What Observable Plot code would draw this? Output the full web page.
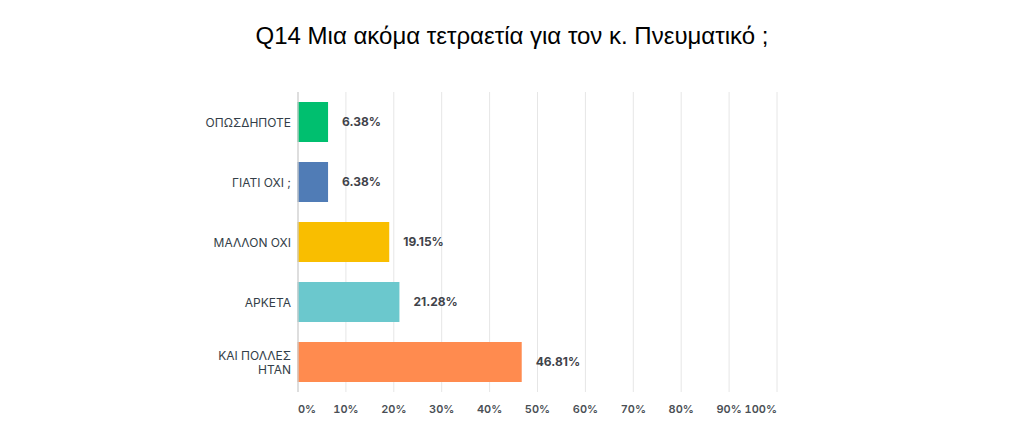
<!DOCTYPE html>
<html>
<head>
<meta charset="utf-8">
<script src="https://cdn.jsdelivr.net/npm/d3@7"></script>
<script src="https://cdn.jsdelivr.net/npm/@observablehq/plot@0.6"></script>
<style>
  body { margin: 0; background: #fff; }
  #wrap { width: 1024px; height: 445px; position: relative; overflow: hidden; }
  #title { height: 70px; box-sizing: border-box; padding-top: 22px; text-align: center;
    font-family: "Liberation Sans", Arial, sans-serif; font-size: 24px; line-height: 28px; color: #000; }
  svg { display: block; }
</style>
</head>
<body>
<div id="wrap">
  <div id="title">Q14 Μια ακόμα τετραετία για τον κ. Πνευματικό ;</div>
  <div id="chart"></div>
</div>
<script>
const categories = ["ΟΠΩΣΔΗΠΟΤΕ", "ΓΙΑΤΙ ΟΧΙ ;", "ΜΑΛΛΟΝ ΟΧΙ", "ΑΡΚΕΤΑ", "ΚΑΙ ΠΟΛΛΕΣ ΗΤΑΝ"];
const categoryLabels = ["ΟΠΩΣΔΗΠΟΤΕ", "ΓΙΑΤΙ ΟΧΙ ;", "ΜΑΛΛΟΝ ΟΧΙ", "ΑΡΚΕΤΑ", "ΚΑΙ ΠΟΛΛΕΣ\nΗΤΑΝ"];
const values = [6.38, 6.38, 19.15, 21.28, 46.81];
const colors = ["#00bf6f", "#507cb6", "#f9be00", "#6bc8cd", "#ff8b4f"];
const xTicks = [0, 10, 20, 30, 40, 50, 60, 70, 80, 90, 100];

const data = categories.map((c, i) => ({category: c, value: values[i], color: colors[i]}));
const labelOf = new Map(categories.map((c, i) => [c, categoryLabels[i]]));

const font = "Inter, 'Noto Sans', sans-serif";
const chart = Plot.plot({
  width: 1024,
  height: 375,
  marginTop: 22,
  marginBottom: 53,
  marginLeft: 297.5,
  marginRight: 247.5,
  style: {fontFamily: font, background: "#fff"},
  x: {domain: [0, 100]},
  y: {domain: categories, paddingInner: 1/3, paddingOuter: 1/6, align: 0.5},
  marks: [
    Plot.gridX(xTicks.slice(1), {stroke: "#e6e6e6", strokeOpacity: 1, strokeWidth: 1}),
    Plot.barX(data, {x: "value", y: "category", fill: "color"}),
    Plot.ruleX([0], {stroke: "#cccccc", strokeWidth: 1.3}),
    Plot.ruleY([0], {frameAnchor: "bottom", stroke: "#cccccc", strokeWidth: 1.3}),
    Plot.text(data, {x: "value", y: "category", text: d => d.value.toFixed(2) + "%",
      textAnchor: "start", dx: 13.5, fontSize: 12, fontWeight: 700, fill: "#3f434a", fontFamily: font}),
    Plot.axisY({tickSize: 0, tickPadding: 7, fontSize: 12, tickFormat: c => labelOf.get(c),
      lineHeight: 1.2, fill: "#333e48", label: null, fontFamily: font}),
    Plot.axisX({ticks: xTicks.slice(1, -1), tickSize: 0, tickPadding: 13, fontSize: 11, fontWeight: 600,
      fill: "#4a4f55", label: null, tickFormat: d => d + "%", fontFamily: font}),
    Plot.axisX({ticks: [0], tickSize: 0, tickPadding: 13, fontSize: 11, fontWeight: 600, textAnchor: "start",
      fill: "#4a4f55", label: null, tickFormat: d => d + "%", fontFamily: font}),
    Plot.axisX({ticks: [100], tickSize: 0, tickPadding: 13, fontSize: 11, fontWeight: 600, textAnchor: "end",
      fill: "#4a4f55", label: null, tickFormat: d => d + "%", fontFamily: font})
  ]
});
document.getElementById("chart").appendChild(chart);
</script>
</body>
</html>
